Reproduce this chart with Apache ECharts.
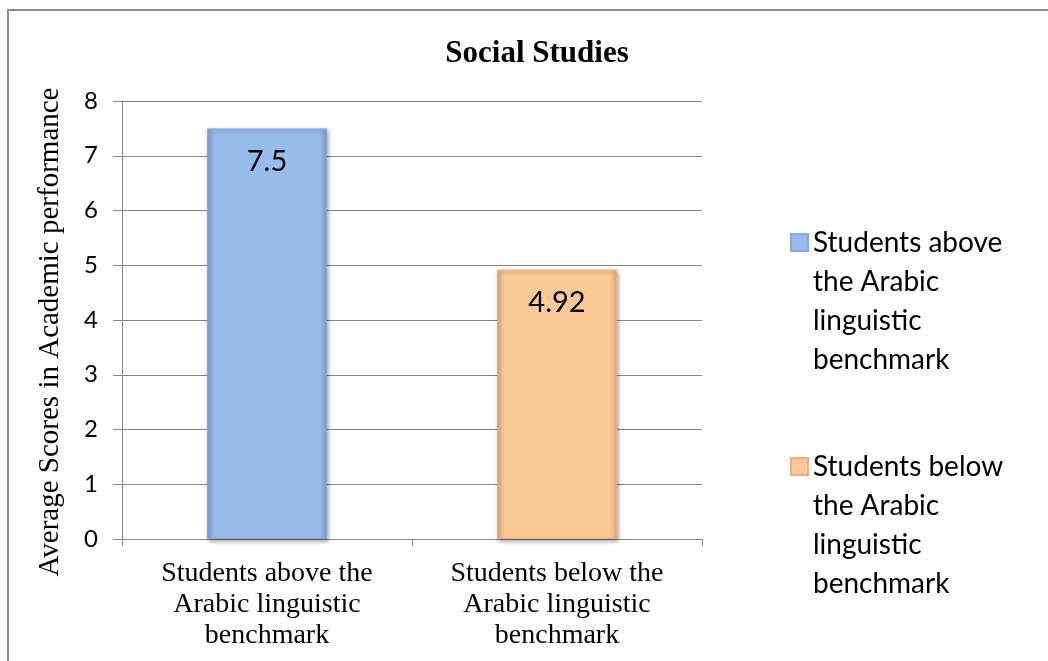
<!DOCTYPE html>
<html>
<head>
<meta charset="utf-8">
<script src="https://cdn.jsdelivr.net/npm/echarts@6/dist/echarts.min.js"></script>
<style>
html,body{margin:0;padding:0;background:#fff;}
#c{width:1048px;height:661px;}
</style>
</head>
<body>
<div id="c"></div>
<script>
var titleText = 'Social Studies';
var yAxisTitle = 'Average Scores in Academic performance';
var categories = ['Students above the\nArabic linguistic\nbenchmark', 'Students below the\nArabic linguistic\nbenchmark'];
var seriesNames = ['Students above\nthe Arabic\nlinguistic\nbenchmark', 'Students below\nthe Arabic\nlinguistic\nbenchmark'];
var valuesAbove = [7.5, '-'];
var valuesBelow = ['-', 4.92];
var yMin = 0, yMax = 8, yInterval = 1;

function bevel(main, edge) {
  return new echarts.graphic.LinearGradient(0, 0, 1, 0, [
    {offset: 0, color: edge},
    {offset: 0.06, color: main},
    {offset: 0.94, color: main},
    {offset: 1, color: edge}
  ]);
}
var blue = bevel('#97BBEB', '#7E9FD0');
var orange = bevel('#FCC896', '#E3AA78');

var chart = echarts.init(document.getElementById('c'));
var legendText = {fontFamily: 'Lato', fontSize: 28, color: '#000', lineHeight: 39};
function legendFmt(name) { return '\n\n\n' + name; }
chart.setOption({
  animation: false,
  backgroundColor: '#fff',
  title: {
    text: titleText, left: 532, top: 33, textAlign: 'center',
    textStyle: {fontFamily: 'Liberation Serif', fontWeight: 'bold', fontSize: 31, color: '#000'}
  },
  legend: [
    {data: [seriesNames[0]], orient: 'vertical', left: 790, top: 106, padding: 0, formatter: legendFmt,
     itemWidth: 17, itemHeight: 17, itemGap: 0, icon: 'rect', textStyle: legendText},
    {data: [seriesNames[1]], orient: 'vertical', left: 790, top: 330, padding: 0, formatter: legendFmt,
     itemWidth: 17, itemHeight: 17, itemGap: 0, icon: 'rect', textStyle: legendText}
  ],
  grid: {left: 122, right: 346, top: 101, bottom: 122, containLabel: false},
  xAxis: {
    type: 'category', data: categories,
    axisLine: {lineStyle: {color: '#868686', width: 1}},
    axisTick: {show: true, length: 7, lineStyle: {color: '#868686'}},
    axisLabel: {fontFamily: 'Liberation Serif', fontSize: 28, lineHeight: 31, color: '#000', margin: 19, interval: 0}
  },
  yAxis: {
    type: 'value', min: yMin, max: yMax, interval: yInterval,
    axisLine: {show: true, lineStyle: {color: '#868686', width: 1}},
    axisTick: {show: true, length: 9, lineStyle: {color: '#868686'}},
    splitLine: {lineStyle: {color: '#868686', width: 1}},
    axisLabel: {fontFamily: 'Lato', fontSize: 24, color: '#000', margin: 24}
  },
  series: [
    {name: seriesNames[0], type: 'bar', data: valuesAbove, barWidth: 120, barGap: '-100%',
     itemStyle: {color: blue, borderColor: '#8AAAD9', borderWidth: 1, shadowBlur: 4, shadowOffsetX: 1, shadowOffsetY: 2, shadowColor: 'rgba(0,0,0,0.35)'},
     label: {show: true, position: 'insideTop', distance: 19, fontFamily: 'Lato', fontSize: 29, color: '#000'}},
    {name: seriesNames[1], type: 'bar', data: valuesBelow, barWidth: 120,
     itemStyle: {color: orange, borderColor: '#E8B182', borderWidth: 1, shadowBlur: 4, shadowOffsetX: 1, shadowOffsetY: 2, shadowColor: 'rgba(0,0,0,0.35)'},
     label: {show: true, position: 'insideTop', distance: 19, fontFamily: 'Lato', fontSize: 29, color: '#000'}}
  ],
  graphic: [
    {type: 'rect', z: -1, silent: true, shape: {x: 8, y: 10, width: 1200, height: 800},
     style: {fill: 'none', stroke: '#8c8c8c', lineWidth: 2}},
    {type: 'text', x: 50, y: 332, rotation: Math.PI / 2, silent: true,
     style: {text: yAxisTitle, fontFamily: 'Liberation Serif', fontSize: 29, fill: '#000', align: 'center', verticalAlign: 'middle'}}
  ]
});
</script>
</body>
</html>
